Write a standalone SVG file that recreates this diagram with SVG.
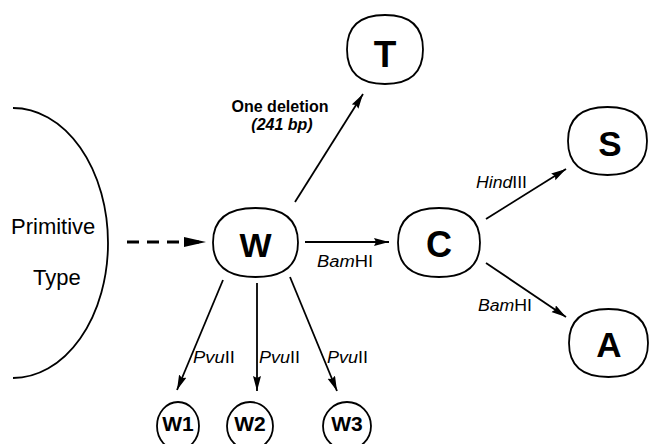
<svg xmlns="http://www.w3.org/2000/svg" width="652" height="444" viewBox="0 0 652 444">
  <style>
    .node { fill: #fff; stroke: #000; stroke-width: 1.8; }
    .nlabel { font-family: "Liberation Sans", Arial, sans-serif; font-weight: bold; text-anchor: middle; fill: #000; }
    .edge { stroke: #000; stroke-width: 1.8; fill: none; marker-end: url(#arrow); }
    .elabel { font-family: "Liberation Sans", Arial, sans-serif; font-size: 16px; fill: #000; }
    .it { font-style: italic; }
    .plain { font-family: "Liberation Sans", Arial, sans-serif; font-size: 22px; fill: #000; }
  </style>
  <defs>
    <marker id="arrow" markerUnits="userSpaceOnUse" markerWidth="16" markerHeight="10" refX="15" refY="4" orient="auto">
      <path d="M0,0 L15,4 L0,8 L2,4 z" fill="#000"/>
    </marker>
    <marker id="arrowBig" markerUnits="userSpaceOnUse" markerWidth="24" markerHeight="12" refX="22" refY="5" orient="auto">
      <path d="M0,0 L22,5 L0,10 z" fill="#000"/>
    </marker>
  </defs>

  <!-- primitive type region -->
  <g id="primitive">
    <path d="M13,108 A95,135 0 0 1 13,378" fill="none" stroke="#000" stroke-width="1.8"/>
    <text class="plain" x="11" y="234">Primitive</text>
    <text class="plain" x="33" y="285">Type</text>
  </g>

  <!-- connectors -->
  <g id="connectors">
    <line x1="127" y1="242" x2="206" y2="242" stroke="#000" stroke-width="3.2" stroke-dasharray="12 8" marker-end="url(#arrowBig)"/>
    <line class="edge" x1="295" y1="202" x2="363" y2="94"/>
    <line class="edge" x1="305" y1="242" x2="389" y2="242"/>
    <line class="edge" x1="486" y1="219" x2="566" y2="169"/>
    <line class="edge" x1="486" y1="263" x2="566" y2="317"/>
    <line class="edge" x1="223" y1="280" x2="177" y2="390"/>
    <line class="edge" x1="257" y1="283" x2="257" y2="391"/>
    <line class="edge" x1="290" y1="277" x2="337" y2="391"/>

    <text class="elabel" font-weight="bold" x="280" y="112" text-anchor="middle" font-size="17">One deletion</text>
    <text class="elabel it" font-weight="bold" x="282" y="130" text-anchor="middle" font-size="17">(241 bp)</text>
    <text class="elabel" x="317" y="267" textLength="56" lengthAdjust="spacingAndGlyphs"><tspan class="it">Bam</tspan>HI</text>
    <text class="elabel" x="476" y="188" textLength="51" lengthAdjust="spacingAndGlyphs"><tspan class="it">Hind</tspan>III</text>
    <text class="elabel" x="478" y="311" textLength="54" lengthAdjust="spacingAndGlyphs"><tspan class="it">Bam</tspan>HI</text>
    <text class="elabel" x="193" y="363" textLength="42" lengthAdjust="spacingAndGlyphs"><tspan class="it">Pvu</tspan>II</text>
    <text class="elabel" x="259" y="363" textLength="41" lengthAdjust="spacingAndGlyphs"><tspan class="it">Pvu</tspan>II</text>
    <text class="elabel" x="327" y="363" textLength="41" lengthAdjust="spacingAndGlyphs"><tspan class="it">Pvu</tspan>II</text>
  </g>

  <!-- nodes: rounded oval outlines -->
  <g id="node-T">
    <path class="node" d="M347,49.5 C347,26.7 359.9,15 385,15 C410.1,15 423,26.7 423,49.5 C423,72.3 410.1,84 385,84 C359.9,84 347,72.3 347,49.5 z"/>
    <text class="nlabel" x="385" y="67" font-size="37">T</text>
  </g>
  <g id="node-W">
    <path class="node" d="M213,242.5 C213,219.7 227.5,208 255.5,208 C283.5,208 298,219.7 298,242.5 C298,265.3 283.5,277 255.5,277 C227.5,277 213,265.3 213,242.5 z"/>
    <text class="nlabel" x="255.5" y="257" font-size="34">W</text>
  </g>
  <g id="node-C">
    <path class="node" d="M398,242.5 C398,219.7 411.9,208 439,208 C466.1,208 480,219.7 480,242.5 C480,265.3 466.1,277 439,277 C411.9,277 398,265.3 398,242.5 z"/>
    <text class="nlabel" x="439" y="257" font-size="36">C</text>
  </g>
  <g id="node-S">
    <path class="node" d="M568,141 C568,118.6 581.4,107 607.5,107 C633.6,107 647,118.6 647,141 C647,163.4 633.6,175 607.5,175 C581.4,175 568,163.4 568,141 z"/>
    <text class="nlabel" x="610" y="156" font-size="35">S</text>
  </g>
  <g id="node-A">
    <path class="node" d="M569,343 C569,320.6 582.4,309 608.5,309 C634.6,309 648,320.6 648,343 C648,365.4 634.6,377 608.5,377 C582.4,377 569,365.4 569,343 z"/>
    <text class="nlabel" x="609" y="357" font-size="35">A</text>
  </g>
  <g id="node-W1">
    <ellipse class="node" cx="178" cy="426" rx="21" ry="24"/>
    <text class="nlabel" x="178" y="431" font-size="21">W1</text>
  </g>
  <g id="node-W2">
    <ellipse class="node" cx="250" cy="426" rx="23" ry="24"/>
    <text class="nlabel" x="250" y="431" font-size="21">W2</text>
  </g>
  <g id="node-W3">
    <ellipse class="node" cx="347" cy="426" rx="24" ry="24"/>
    <text class="nlabel" x="347" y="431" font-size="21">W3</text>
  </g>
</svg>
